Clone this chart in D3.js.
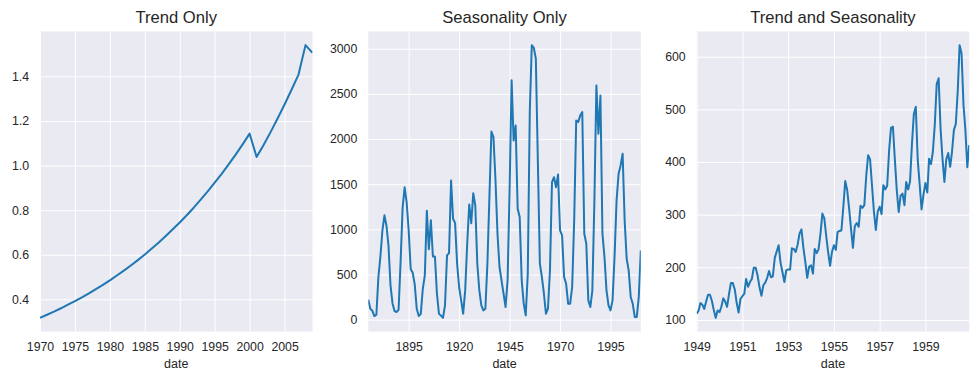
<!DOCTYPE html>
<html lang="en">
<head>
<meta charset="UTF-8">
<title>Trend and Seasonality</title>
<script src="https://d3js.org/d3.v7.min.js"></script>
<style>
  body { margin: 0; background: #fff; }
  svg { display: block; font-family: "Liberation Sans", Arial, sans-serif; }
  .grid .domain { display: none; }
  .grid .tick line { stroke: #fff; stroke-width: 1; }
  .grid .tick text { fill: #262626; font-size: 12.3px; }
  .title { fill: #262626; font-size: 16.6px; text-anchor: middle; }
  .xlabel { fill: #262626; font-size: 12.5px; text-anchor: middle; }
</style>
</head>
<body>
<div id="chart"></div>
<script>
  // Trend Only - yearly, 1970..2009
  const trendStartYear = 1970;
  const trendValues = [
    0.317, 0.331, 0.345, 0.360, 0.376, 0.392, 0.409, 0.427, 0.446, 0.465,
    0.485, 0.507, 0.529, 0.552, 0.576, 0.601, 0.628, 0.655, 0.684, 0.714,
    0.745, 0.777, 0.811, 0.847, 0.884, 0.923, 0.963, 1.005, 1.049, 1.095,
    1.143, 1.038, 1.092, 1.150, 1.211, 1.274, 1.340, 1.408, 1.540, 1.505
  ];
  const trendXTicks = [1970, 1975, 1980, 1985, 1990, 1995, 2000, 2005];
  const trendYTicks = [0.4, 0.6, 0.8, 1.0, 1.2, 1.4];

  // Seasonality Only - yearly, 1875..2010
  const seasonStartYear = 1875;
  const seasonValues = [
    220, 120, 100, 40, 55, 470, 700, 990, 1155, 1040,
    820, 380, 180, 95, 85, 110, 640, 1240, 1465, 1300,
    990, 560, 520, 390, 120, 40, 65, 340, 490, 1205,
    780, 1100, 700, 700, 290, 66, 45, 20, 160, 712,
    737, 1540, 1117, 1069, 619, 361, 214, 66, 324, 841,
    1276, 1069, 1401, 1265, 619, 324, 159, 103, 122, 619,
    1357, 2083, 2022, 1550, 952, 583, 435, 288, 140, 435,
    1432, 2650, 1985, 2151, 1229, 1137, 435, 177, 48, 509,
    2300, 3040, 3010, 2889, 1750, 620, 470, 290, 66, 122,
    546, 1523, 1578, 1467, 1608, 988, 933, 472, 398, 177,
    177, 362, 1100, 2206, 2188, 2262, 2299, 952, 841, 214,
    140, 325, 1300, 2594, 2059, 2483, 952, 694, 325, 159,
    103, 214, 700, 1321, 1616, 1708, 1838, 1100, 675, 546,
    251, 177, 30, 30, 251, 767
  ];
  const seasonXTicks = [1895, 1920, 1945, 1970, 1995];
  const seasonYTicks = [0, 500, 1000, 1500, 2000, 2500, 3000];

  // Trend and Seasonality - monthly, Jan 1949..Dec 1960
  const passengerStart = new Date(1949, 0, 1);
  const passengerValues = [
    112, 118, 132, 129, 121, 135, 148, 148, 136, 119, 104, 118,
    115, 126, 141, 135, 125, 149, 170, 170, 158, 133, 114, 140,
    145, 150, 178, 163, 172, 178, 199, 199, 184, 162, 146, 166,
    171, 180, 193, 181, 183, 218, 230, 242, 209, 191, 172, 194,
    196, 196, 236, 235, 229, 243, 264, 272, 237, 211, 180, 201,
    204, 188, 235, 227, 234, 264, 302, 293, 259, 229, 203, 229,
    242, 233, 267, 269, 270, 315, 364, 347, 312, 274, 237, 278,
    284, 277, 317, 313, 318, 374, 413, 405, 355, 306, 271, 306,
    315, 301, 356, 348, 355, 422, 465, 467, 404, 347, 305, 336,
    340, 318, 362, 348, 363, 435, 491, 505, 404, 359, 310, 337,
    360, 342, 406, 396, 420, 472, 548, 559, 463, 407, 362, 405,
    417, 391, 419, 461, 472, 535, 622, 606, 508, 461, 390, 432
  ];
  const passengerXTicks = [1949, 1951, 1953, 1955, 1957, 1959];
  const passengerYTicks = [100, 200, 300, 400, 500, 600];

  const width = 979;
  const height = 381;
  const plotTop = 31.5;
  const plotH = 300;
  const plotW = 272.5;
  const lefts = [40, 368.3, 696.7];

  const svg = d3.select("#chart").append("svg")
    .attr("width", width)
    .attr("height", height);

  const padded = vals => {
    const [lo, hi] = d3.extent(vals);
    const m = (hi - lo) * 0.05;
    return [lo - m, hi + m];
  };

  const drawPanel = (i, title, data, x, yDomain, xTickVals, xFormat, yTickVals, yFormat) => {
    const g = svg.append("g").attr("transform", `translate(${lefts[i]},${plotTop})`);
    const y = d3.scaleLinear().domain(yDomain).range([plotH, 0]);

    g.append("rect")
      .attr("width", plotW)
      .attr("height", plotH)
      .attr("fill", "#eaeaf2");

    g.append("g")
      .attr("class", "grid")
      .attr("transform", `translate(0,${plotH})`)
      .call(d3.axisBottom(x).tickValues(xTickVals).tickFormat(xFormat)
        .tickSizeInner(-plotH).tickSizeOuter(0).tickPadding(10.6));

    g.append("g")
      .attr("class", "grid")
      .call(d3.axisLeft(y).tickValues(yTickVals).tickFormat(yFormat)
        .tickSizeInner(-plotW).tickSizeOuter(0).tickPadding(11));

    const clipId = "clip" + i;
    g.append("clipPath").attr("id", clipId)
      .append("rect").attr("width", plotW).attr("height", plotH);

    g.append("path")
      .datum(data)
      .attr("clip-path", `url(#${clipId})`)
      .attr("fill", "none")
      .attr("stroke", "#1f77b4")
      .attr("stroke-width", 2)
      .attr("stroke-linejoin", "round")
      .attr("d", d3.line().x(d => x(d.x)).y(d => y(d.y)));

    g.append("text")
      .attr("class", "title")
      .attr("x", plotW / 2)
      .attr("y", 23 - plotTop)
      .text(title);

    g.append("text")
      .attr("class", "xlabel")
      .attr("x", plotW / 2)
      .attr("y", 368.3 - plotTop)
      .text("date");
  };

  // panel 1
  const trendData = trendValues.map((v, k) => ({ x: trendStartYear + k, y: v }));
  const x1 = d3.scaleLinear()
    .domain(d3.extent(trendData, d => d.x))
    .range([0, plotW]);
  drawPanel(0, "Trend Only", trendData, x1, padded(trendValues),
    trendXTicks, d3.format("d"), trendYTicks, d3.format(".1f"));

  // panel 2
  const seasonData = seasonValues.map((v, k) => ({ x: seasonStartYear + k, y: v }));
  const x2 = d3.scaleLinear()
    .domain(d3.extent(seasonData, d => d.x))
    .range([0, plotW]);
  drawPanel(1, "Seasonality Only", seasonData, x2, padded(seasonValues),
    seasonXTicks, d3.format("d"), seasonYTicks, d3.format("d"));

  // panel 3
  const passengerData = passengerValues.map((v, k) => ({ x: d3.timeMonth.offset(passengerStart, k), y: v }));
  const x3 = d3.scaleTime()
    .domain(d3.extent(passengerData, d => d.x))
    .range([0, plotW]);
  drawPanel(2, "Trend and Seasonality", passengerData, x3, padded(passengerValues),
    passengerXTicks.map(yr => new Date(yr, 0, 1)), d3.timeFormat("%Y"), passengerYTicks, d3.format("d"));
</script>
</body>
</html>
